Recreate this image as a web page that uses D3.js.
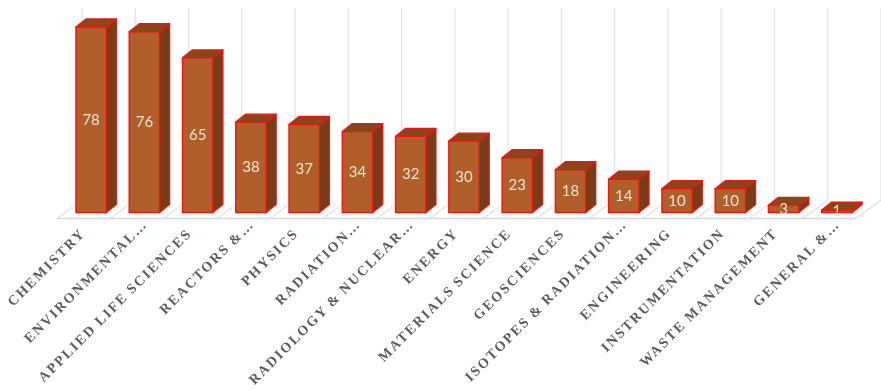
<!DOCTYPE html>
<html><head><meta charset="utf-8">
<script src="https://cdn.jsdelivr.net/npm/d3@7"></script>
<style>html,body{margin:0;padding:0;background:#fff;overflow:hidden}svg{display:block;filter:blur(0.35px)}</style>
</head><body><svg id="c" width="881" height="390"></svg>
<script>
const categories = ["CHEMISTRY","ENVIRONMENTAL…","APPLIED LIFE SCIENCES","REACTORS &…","PHYSICS","RADIATION…","RADIOLOGY & NUCLEAR…","ENERGY","MATERIALS SCIENCE","GEOSCIENCES","ISOTOPES & RADIATION…","ENGINEERING","INSTRUMENTATION","WASTE MANAGEMENT","GENERAL &…"];
const values = [78,76,65,38,37,34,32,30,23,18,14,10,10,3,1];

const svg = d3.select("#c");
const baseY = 212.5, depthX = 10, depthY = 8;
const x = d3.scaleBand().domain(categories).range([64.5, 863.5]).paddingInner(0.43).paddingOuter(0.215);
const y = d3.scaleLinear().domain([0,78]).range([baseY,27]);
const step = x.step(), bw = x.bandwidth();

// back wall / floor
const floorL = x(categories[0]) - (x.paddingOuter()*step) - 7.5;
const floorY = 218.5, backY = 200, wallTop = 8, skew = 25;
const cells = d3.range(categories.length + 1).map(i => floorL + i*step);
const grid = svg.append("g").attr("fill","none").attr("stroke","#e2e2e2").attr("stroke-width",1.2);
grid.selectAll("line.w").data(cells).join("line").attr("class","w")
  .attr("x1",d=>d+skew).attr("x2",d=>d+skew).attr("y1",wallTop).attr("y2",backY);
grid.selectAll("line.d").data(cells).join("line").attr("class","d")
  .attr("x1",d=>d).attr("x2",d=>d+skew).attr("y1",floorY).attr("y2",backY);
grid.append("line").attr("x1",floorL).attr("x2",cells[cells.length-1]).attr("y1",floorY).attr("y2",floorY).attr("stroke","#d9d9d9").attr("stroke-width",1.4);

// bars
const bars = svg.append("g").selectAll("g").data(categories.map((c,i)=>({c,v:values[i]}))).join("g");
const poly = pts => "M"+pts.map(p=>p.join(",")).join("L")+"Z";
const barStyle = s => s.attr("stroke","#f4130d").attr("stroke-width",1.4).attr("stroke-linejoin","round");
bars.append("path").attr("fill","#743e18").call(barStyle).attr("d",d=>{
  const r=x(d.c)+bw,t=y(d.v);
  return poly([[r,t],[r+depthX,t-depthY],[r+depthX,baseY-depthY],[r,baseY]]);});
bars.append("path").attr("fill","#84481b").call(barStyle).attr("d",d=>{
  const l=x(d.c),r=l+bw,t=y(d.v);
  return poly([[l,t],[l+depthX,t-depthY],[r+depthX,t-depthY],[r,t]]);});
bars.append("path").attr("fill","#b05f2a").call(barStyle).attr("d",d=>{
  const l=x(d.c),r=l+bw,t=y(d.v);
  return poly([[l,t],[r,t],[r,baseY],[l,baseY]]);});
bars.append("text").text(d=>d.v)
  .attr("x",d=>x(d.c)+bw/2).attr("y",d=>(y(d.v)+baseY)/2+5)
  .attr("text-anchor","middle").attr("font-family","Lato, 'Open Sans', sans-serif").attr("font-size",15).attr("fill","#f0e2d6");

// category labels (truncated labels run further up towards the axis)
svg.append("g").selectAll("text").data(categories).join("text").text(d=>d)
  .attr("transform",d=>{
    const off = d.endsWith("…") ? 9 : 0;
    return `translate(${x(d)+bw/2-5+off},${234-off}) rotate(-45)`;})
  .attr("text-anchor","end").attr("font-family","'Liberation Serif', serif").attr("font-weight","bold")
  .attr("font-size",14).attr("letter-spacing",1.95).attr("word-spacing",-0.8).attr("fill","#5c5c5c");
</script></body></html>
